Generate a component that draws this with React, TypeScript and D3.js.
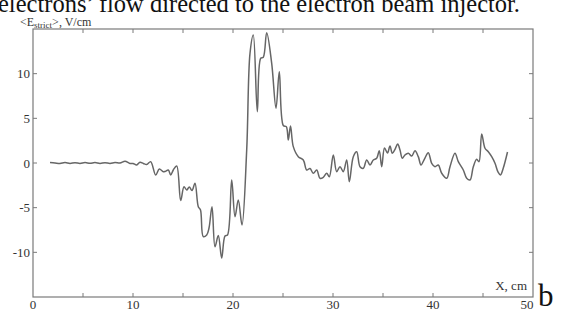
import React from "react";
import * as d3 from "d3";

// position along the probe, cm
const xs = [
  1.7, 2.2, 2.7, 3.2, 3.7, 4.2, 4.7, 5.2, 5.7, 6.2, 6.7, 7.2, 7.7, 8.2, 8.7, 9.2, 9.7,
  10.0, 10.37, 10.7, 11.03, 11.37, 11.77, 12.27, 12.63, 13.03, 13.2, 13.53, 13.77, 14.03,
  14.37, 14.77, 15.1, 15.37, 15.63, 15.9, 16.2, 16.53, 16.75, 17.03, 17.37, 17.6, 17.9,
  18.2, 18.53, 18.87, 19.2, 19.45, 19.87, 20.2, 20.53, 20.9, 21.37, 21.7, 22.03, 22.43,
  22.77, 23.03, 23.37, 23.87, 24.3, 24.63, 25.03, 25.33, 25.53, 25.75, 26.03, 26.53,
  27.03, 27.37, 27.7, 28.03, 28.37, 28.7, 29.03, 29.37, 29.63, 30.03, 30.37, 30.7, 31.03,
  31.37, 31.63, 32.03, 32.37, 32.7, 33.03, 33.37, 33.7, 34.03, 34.37, 34.63, 34.87,
  35.15, 35.45, 35.7, 35.93, 36.2, 36.47, 36.7, 36.93, 37.2, 37.53, 37.87, 38.2, 38.53,
  38.8, 39.13, 39.53, 39.87, 40.2, 40.53, 40.87, 41.37, 41.7, 42.2, 42.53, 43.03, 43.37,
  43.7, 44.03, 44.37, 44.6, 44.87, 45.2, 45.53, 45.87, 46.2, 46.5, 46.75, 47.03, 47.45,
];

// <E_strict>, V/cm
const es = [
  0.05, 0.0, -0.05, 0.05, -0.05, 0.03, -0.05, 0.05, -0.03, 0.05, -0.05, 0.03, -0.05, 0.05,
  0.0, 0.2, -0.05,
  -0.05, -0.22, 0.08, -0.05, -0.17, 0.15, -1.34, -0.67, -0.97, -0.95, -0.78, -1.34, -0.78,
  -0.34, -4.2, -2.65, -3.02, -2.69, -3.08, -2.27, -4.89, -5.26, -8.25, -8.06, -7.28, -4.89,
  -9.37, -8.12, -10.64, -8.17, -8.06, -1.9, -6.01, -4.14, -6.94, 1.46, 12.28, 14.33, 5.74,
  11.72, 11.84, 14.59, 11.16, 6.13, 10.22, 4.2, 4.07, 2.58, 4.14, 1.83, 0.71,
  0.34, -0.78, -0.62, -1.15, -0.78, -1.71, -1.6, -1.15, -1.53, 0.9, -0.97, -0.41, -0.97,
  0.34, -2.09, 0.71, 1.27, -0.41, -0.59, 0.34, -0.22, 0.34, 0.53, 1.38, -0.41,
  1.68, 1.12, 1.9, 1.09, 1.53, 2.13, 1.46, 0.53, 0.9, 1.09, 0.78, 1.38, 0.71,
  -0.22, 0.41, 1.15, -0.03, -0.41, -0.22, -1.15, -1.71, -0.41, 1.09, 0.15, -0.78, -1.71,
  -1.9, -0.41, 0.41, 0.15, 3.25, 1.65, 1.27, 0.71, -0.03, -1.0, -1.34, -0.56, 1.23,
];

const xTicks = [0, 5, 10, 15, 20, 25, 30, 35, 40, 45, 50];
const xLabels = [0, 10, 20, 30, 40, 50];
const yTicks = [-10, -5, 0, 5, 10];

const W = 562;
const H = 312;
const left = 33;
const right = 533;
const top = 29;
const bottom = 297;

export default function App() {
  const x = d3.scaleLinear().domain([0, 50]).range([left, right]);
  const y = d3.scaleLinear().domain([-15, 15]).range([bottom, top]);
  const pts: [number, number][] = xs.map((v, i) => [v, es[i]]);
  const path = d3
    .line<[number, number]>()
    .x((d) => x(d[0]))
    .y((d) => y(d[1]))
    .curve(d3.curveCatmullRom.alpha(0.5))(pts);

  const serif = "'Liberation Serif', 'Times New Roman', serif";
  const frame = "#7a7a7a";

  return (
    <div style={{ position: "absolute", left: 0, top: 0 }}>
      <svg width={W} height={H} style={{ display: "block", background: "#fff" }}>
        <text x={-2} y={12} fontFamily={serif} fontSize={24.5} fill="#111">
          electrons’ flow directed to the electron beam injector.
        </text>
        <text x={20} y={26} fontFamily={serif} fontSize={12} fill="#333">
          {"<E"}
          <tspan fontSize={9} dy={2}>strict</tspan>
          <tspan dy={-2}>{">, V/cm"}</tspan>
        </text>

        <rect
          x={left}
          y={top}
          width={right - left}
          height={bottom - top}
          fill="none"
          stroke={frame}
          strokeWidth={1.2}
        />
        {xTicks.slice(1, -1).map((t) => (
          <g key={"xt" + t} stroke={frame} strokeWidth={1}>
            <line x1={x(t)} x2={x(t)} y1={top} y2={top + 4} />
            <line x1={x(t)} x2={x(t)} y1={bottom} y2={bottom - 4} />
          </g>
        ))}
        {yTicks.map((t) => (
          <g key={"yt" + t} stroke={frame} strokeWidth={1}>
            <line x1={left} x2={left + 4} y1={y(t)} y2={y(t)} />
            <line x1={right} x2={right - 4} y1={y(t)} y2={y(t)} />
          </g>
        ))}
        {yTicks.map((t) => (
          <text
            key={"yl" + t}
            x={left - 3}
            y={y(t) + 4.5}
            textAnchor="end"
            fontFamily={serif}
            fontSize={13}
            fill="#333"
          >
            {t}
          </text>
        ))}
        {xLabels.map((t) => (
          <text
            key={"xl" + t}
            x={t === 50 ? x(t) - 6 : x(t)}
            y={309}
            textAnchor="middle"
            fontFamily={serif}
            fontSize={13}
            fill="#333"
          >
            {t}
          </text>
        ))}
        <text x={527} y={290} textAnchor="end" fontFamily={serif} fontSize={13} fill="#333">
          X, cm
        </text>
        <text x={538} y={306} fontFamily={serif} fontSize={31} fill="#111">
          b
        </text>

        <path d={path ?? ""} fill="none" stroke="#666" strokeWidth={1.5} strokeLinejoin="round" />
      </svg>
    </div>
  );
}
